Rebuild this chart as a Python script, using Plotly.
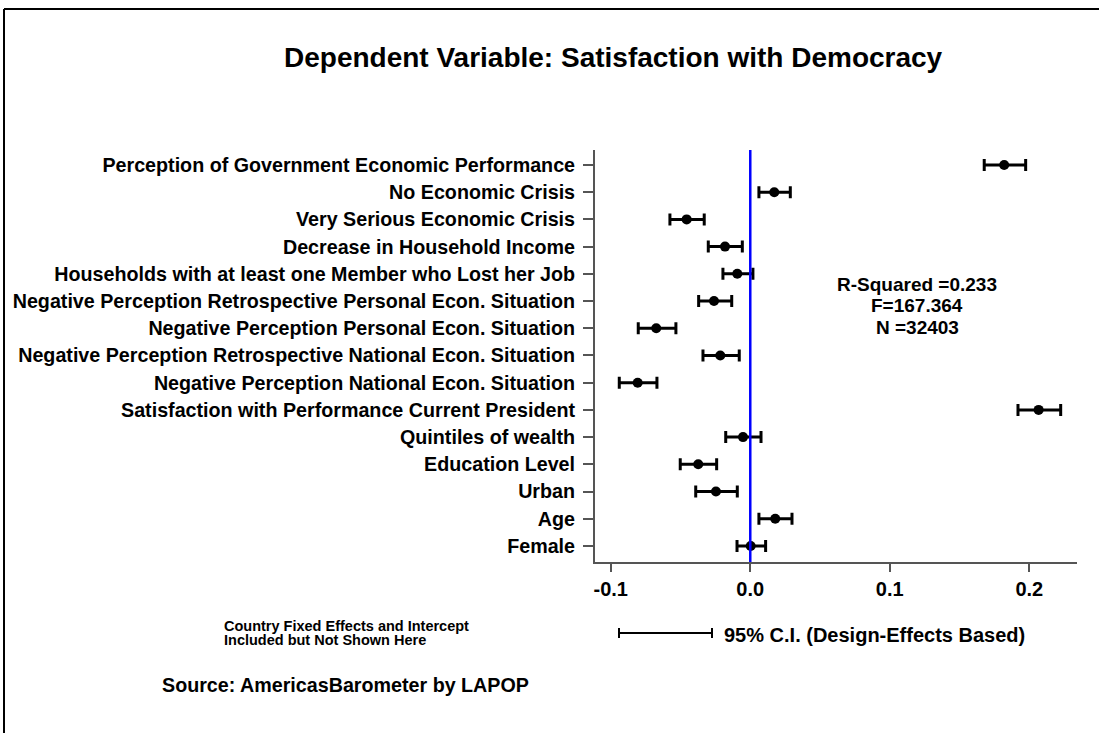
import plotly.graph_objects as go

# ---------------- data ----------------
variables = [
    "Perception of Government Economic Performance",
    "No Economic Crisis",
    "Very Serious Economic Crisis",
    "Decrease in Household Income",
    "Households with at least one Member who Lost her Job",
    "Negative Perception Retrospective Personal Econ. Situation",
    "Negative Perception Personal Econ. Situation",
    "Negative Perception Retrospective National Econ. Situation",
    "Negative Perception National Econ. Situation",
    "Satisfaction with Performance Current President",
    "Quintiles of wealth",
    "Education Level",
    "Urban",
    "Age",
    "Female",
]
estimate = [0.182, 0.0172, -0.0456, -0.0181, -0.0093, -0.026, -0.0674, -0.0215,
            -0.0807, 0.2067, -0.0052, -0.0373, -0.0246, 0.0179, 0.0003]
ci_low = [0.1677, 0.0062, -0.0576, -0.0301, -0.0196, -0.037, -0.0803, -0.0339,
          -0.0939, 0.1919, -0.0176, -0.0502, -0.0391, 0.0062, -0.0095]
ci_high = [0.1974, 0.0287, -0.033, -0.0057, 0.0019, -0.0133, -0.0533, -0.0079,
           -0.0669, 0.2225, 0.0077, -0.0241, -0.0093, 0.0299, 0.011]
x_ticks = [-0.1, 0.0, 0.1, 0.2]
x_tick_labels = ["-0.1", "0.0", "0.1", "0.2"]

title_text = "Dependent Variable: Satisfaction with Democracy"
stats_lines = ["R-Squared =0.233", "F=167.364", "N =32403"]
note_lines = ["Country Fixed Effects and Intercept", "Included but Not Shown Here"]
ci_legend_text = "95% C.I. (Design-Effects Based)"
source_text = "Source: AmericasBarometer by LAPOP"

# ---------------- layout geometry (pixels) ----------------
W, H = 1099, 733
L, R, T, B = 595, 1077, 150, 562

def px(x):
    return (x - L) / (R - L)

def py(y):
    return (B - y) / (B - T)

BOLD = "Liberation Sans"
FS = 20

err_plus = [h - e for h, e in zip(ci_high, estimate)]
err_minus = [e - l for e, l in zip(estimate, ci_low)]

fig = go.Figure()
fig.add_trace(go.Scatter(
    x=estimate, y=variables, mode="markers",
    marker=dict(color="black", size=10),
    error_x=dict(type="data", symmetric=False, array=err_plus, arrayminus=err_minus,
                 color="black", thickness=3, width=6),
    showlegend=False, hoverinfo="x+y",
))

shapes = [
    # zero reference line
    dict(type="line", xref="x", yref="paper", x0=0, x1=0, y0=0, y1=1,
         line=dict(color="#0000ff", width=2.5), layer="above"),
    # figure frame (left and top)
    dict(type="line", xref="paper", yref="paper", x0=px(4), x1=px(4), y0=py(9), y1=py(740),
         line=dict(color="black", width=2)),
    dict(type="line", xref="paper", yref="paper", x0=px(4), x1=px(1105), y0=py(9), y1=py(9),
         line=dict(color="black", width=2)),
    # CI legend sample
    dict(type="line", xref="paper", yref="paper", x0=px(619), x1=px(712), y0=py(633), y1=py(633),
         line=dict(color="black", width=2)),
    dict(type="line", xref="paper", yref="paper", x0=px(619), x1=px(619), y0=py(628), y1=py(638),
         line=dict(color="black", width=2)),
    dict(type="line", xref="paper", yref="paper", x0=px(712), x1=px(712), y0=py(628), y1=py(638),
         line=dict(color="black", width=2)),
]

annotations = [
    dict(text=title_text, xref="paper", yref="paper", x=px(613), y=py(57),
         xanchor="center", yanchor="middle", showarrow=False,
         font=dict(family=BOLD, size=28, color="black", weight="bold")),
    dict(text=ci_legend_text, xref="paper", yref="paper", x=px(722), y=py(635),
         xanchor="left", yanchor="middle", showarrow=False,
         font=dict(family=BOLD, size=20, color="black", weight="bold")),
    dict(text=source_text, xref="paper", yref="paper", x=px(160), y=py(685),
         xanchor="left", yanchor="middle", showarrow=False,
         font=dict(family=BOLD, size=19.7, color="black", weight="bold")),
]
stats_y = [284, 305.5, 327]
for line, yy in zip(stats_lines, stats_y):
    annotations.append(dict(text=line, xref="paper", yref="paper", x=px(917), y=py(yy),
                            xanchor="center", yanchor="middle", showarrow=False,
                            font=dict(family=BOLD, size=19, color="black", weight="bold")))
for i, line in enumerate(note_lines):
    annotations.append(dict(text=line, xref="paper", yref="paper", x=px(222), y=py(626 + 14 * i),
                            xanchor="left", yanchor="middle", showarrow=False,
                            font=dict(family=BOLD, size=14.5, color="black", weight="bold")))

fig.update_layout(
    width=W, height=H,
    margin=dict(l=L, r=W - R, t=T, b=H - B, pad=0),
    paper_bgcolor="white", plot_bgcolor="white",
    font=dict(family=BOLD, size=FS, color="black", weight="bold"),
    xaxis=dict(range=[-0.1113, 0.2342], tickvals=x_ticks, ticktext=x_tick_labels,
               showgrid=False, zeroline=False, showline=True, linecolor="#555555", linewidth=2,
               ticks="outside", ticklen=8, tickwidth=2, tickcolor="#555555",
               tickfont=dict(family=BOLD, size=FS, color="black", weight="bold")),
    yaxis=dict(type="category", categoryorder="array", categoryarray=variables,
               range=[14.59, -0.55], showgrid=False, zeroline=False,
               showline=True, linecolor="#555555", linewidth=2,
               ticks="outside", ticklen=10, tickwidth=2, tickcolor="#555555",
               ticklabelstandoff=4,
               tickfont=dict(family=BOLD, size=19.7, color="black", weight="bold")),
    shapes=shapes, annotations=annotations,
    showlegend=False,
)

fig.write_html("out.html", config={"displayModeBar": False},
               post_script="document.body.style.margin='0';")
